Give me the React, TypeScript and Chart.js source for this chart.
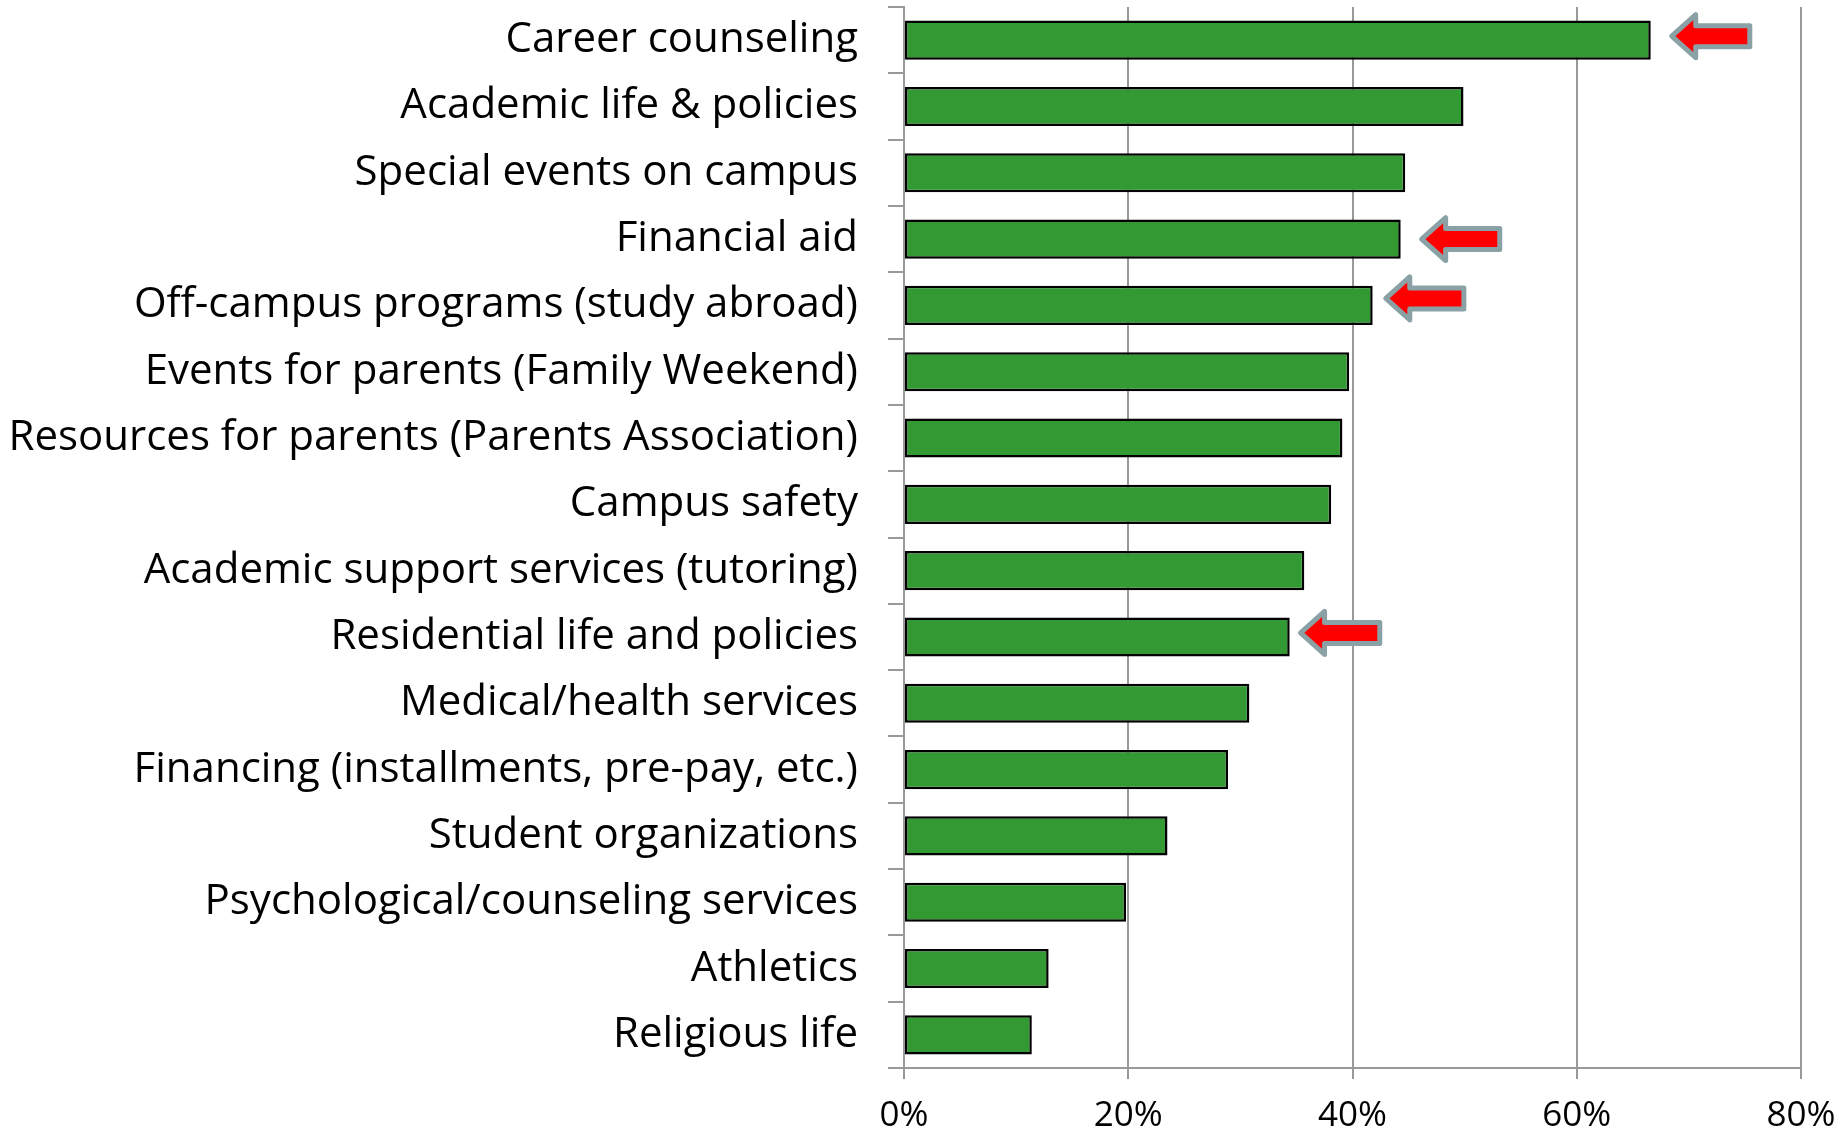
import React, { useEffect, useRef } from "react";
import { Chart, registerables } from "chart.js";

Chart.register(...registerables);

const categories = [
  "Career counseling",
  "Academic life & policies",
  "Special events on campus",
  "Financial aid",
  "Off-campus programs (study abroad)",
  "Events for parents (Family Weekend)",
  "Resources for parents (Parents Association)",
  "Campus safety",
  "Academic support services (tutoring)",
  "Residential life and policies",
  "Medical/health services",
  "Financing (installments, pre-pay, etc.)",
  "Student organizations",
  "Psychological/counseling services",
  "Athletics",
  "Religious life",
];

const values = [66.6, 49.9, 44.7, 44.3, 41.8, 39.7, 39.1, 38.1, 35.7, 34.4, 30.8, 28.9, 23.5, 19.8, 12.9, 11.4];

const xTicks = [0, 20, 40, 60, 80];

// Highlight arrows (annotations): category, tip value (%), tail value (%), vertical nudge
const arrowCategories = [
  "Career counseling",
  "Financial aid",
  "Off-campus programs (study abroad)",
  "Residential life and policies",
];
const arrowTips = [68.2, 45.9, 42.7, 35.1];
const arrowTails = [75.7, 53.4, 50.2, 42.7];
const arrowNudge = [-4, 0, -7, -4];

const FONT = "'Open Sans', sans-serif";

const arrowPlugin = {
  id: "arrows",
  afterDatasetsDraw(chart: any) {
    const { ctx } = chart;
    const xs = chart.scales.x;
    const ys = chart.scales.y;
    ctx.save();
    arrowCategories.forEach((cat, i) => {
      const idx = categories.indexOf(cat);
      const tip = xs.getPixelForValue(arrowTips[i]) + 3;
      const tail = xs.getPixelForValue(arrowTails[i]) - 3;
      const cy = ys.getPixelForValue(idx) + arrowNudge[i];
      const headBack = tip + 24;
      const headH = 21.5;
      const shaftH = 10.5;
      ctx.beginPath();
      ctx.moveTo(tip, cy);
      ctx.lineTo(headBack, cy - headH);
      ctx.lineTo(headBack, cy - shaftH);
      ctx.lineTo(tail, cy - shaftH);
      ctx.lineTo(tail, cy + shaftH);
      ctx.lineTo(headBack, cy + shaftH);
      ctx.lineTo(headBack, cy + headH);
      ctx.closePath();
      ctx.fillStyle = "#ff0000";
      ctx.fill();
      ctx.lineWidth = 5;
      ctx.lineJoin = "round";
      ctx.strokeStyle = "#8aa2a5";
      ctx.stroke();
    });
    ctx.restore();
  },
};

export default function App() {
  const ref = useRef<HTMLCanvasElement>(null);
  useEffect(() => {
    if (!ref.current) return;
    const chart = new Chart(ref.current, {
      type: "bar",
      data: {
        labels: categories,
        datasets: [
          {
            data: values,
            backgroundColor: "#339933",
            borderColor: "#000000",
            borderWidth: 2.5,
            borderSkipped: false,
            barPercentage: 0.59,
            categoryPercentage: 1,
          },
        ],
      },
      options: {
        indexAxis: "y",
        responsive: false,
        animation: false,
        devicePixelRatio: 1,
        layout: { padding: { top: 7, right: 46, left: 0, bottom: 0 } },
        plugins: {
          legend: { display: false },
          tooltip: { enabled: false },
        },
        scales: {
          x: {
            min: 0,
            max: 80,
            afterBuildTicks: (scale: any) => {
              scale.ticks = xTicks.map((v) => ({ value: v }));
            },
            afterFit: (scale: any) => {
              scale.height = 62;
              scale.paddingLeft = 0;
              scale.paddingRight = 0;
            },
            ticks: {
              callback: (v: any) => v + "%",
              color: "#000",
              font: { family: FONT, size: 35 },
              padding: 16,
              maxRotation: 0,
            },
            grid: { color: "#999999", lineWidth: 2, tickLength: 11 },
            border: { color: "#999999", width: 2 },
          },
          y: {
            afterFit: (scale: any) => {
              scale.width = 904;
              scale.paddingTop = 0;
              scale.paddingBottom = 0;
            },
            ticks: {
              color: "#000",
              font: { family: FONT, size: 42 },
              padding: 30,
              autoSkip: false,
            },
            grid: { drawOnChartArea: false, drawTicks: true, tickLength: 16, color: "#999999", lineWidth: 2 },
            border: { color: "#999999", width: 2 },
          },
        },
      },
      plugins: [arrowPlugin],
    });
    return () => chart.destroy();
  }, []);
  return (
    <div style={{ position: "absolute", left: 0, top: 0, width: 1847, height: 1130, background: "#fff" }}>
      <canvas ref={ref} width={1847} height={1130} />
    </div>
  );
}
